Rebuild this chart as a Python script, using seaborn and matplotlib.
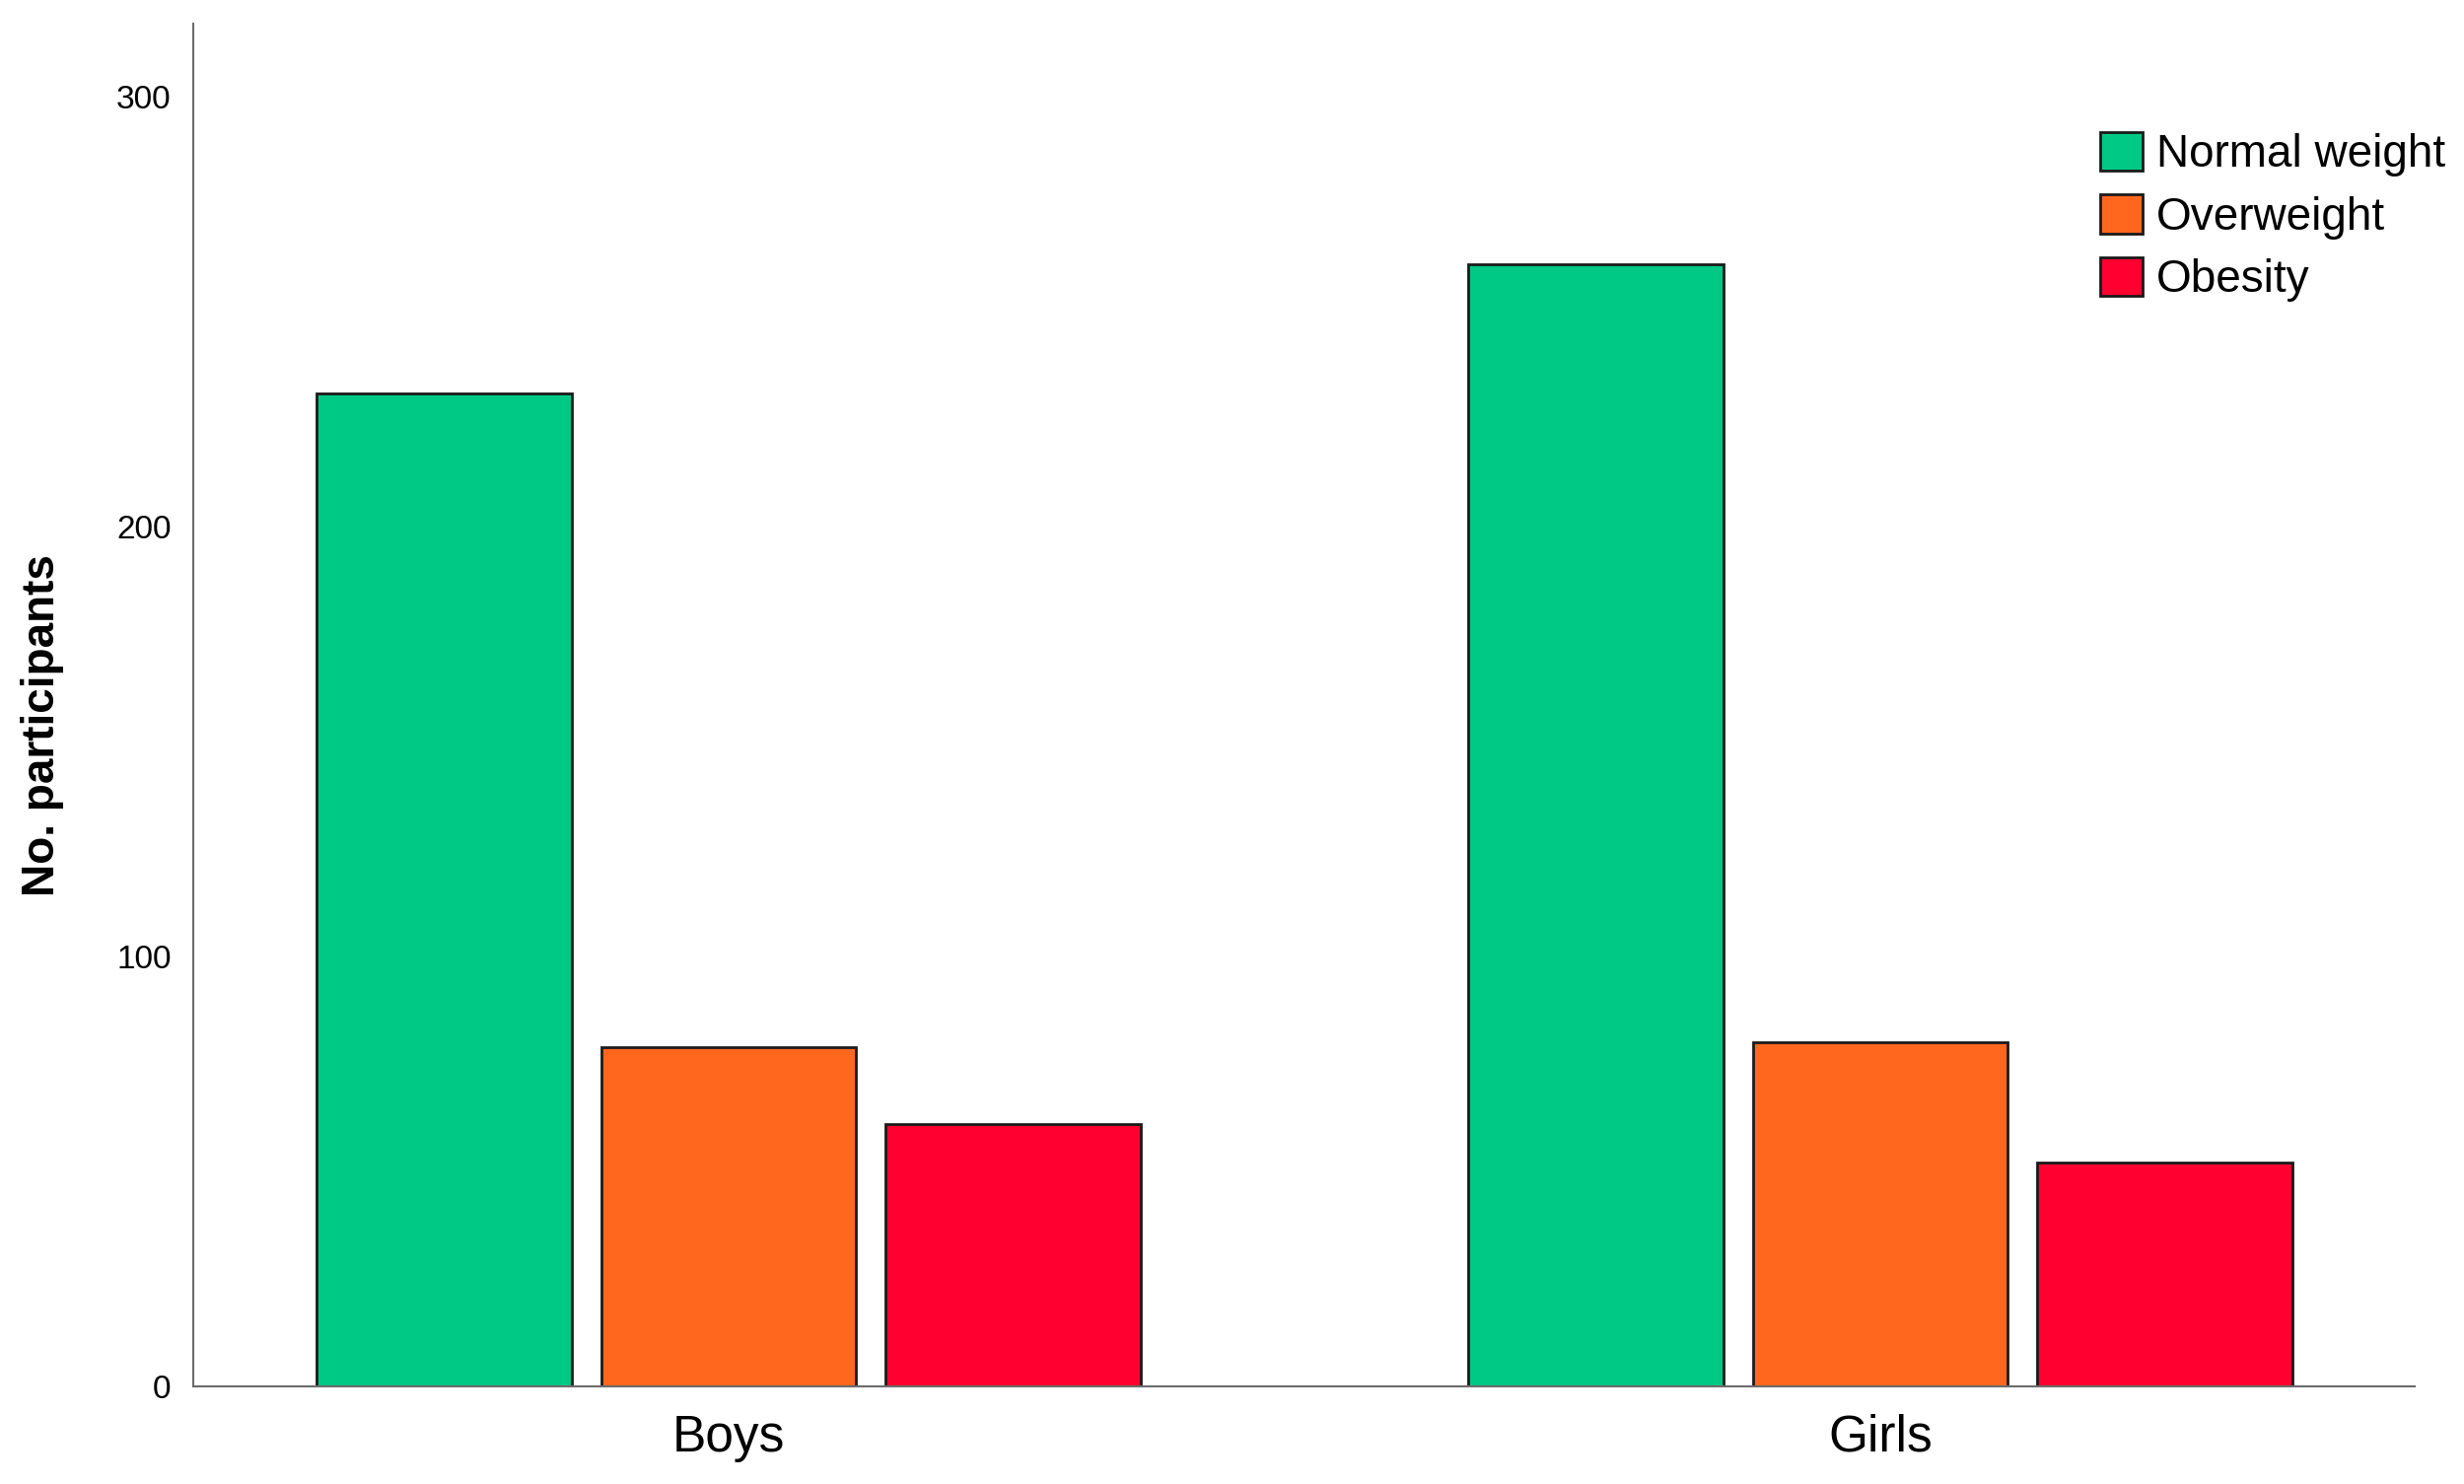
import pandas as pd
import seaborn as sns
import matplotlib.pyplot as plt

# values
groups = ["Boys", "Girls"]
categories = ["Normal weight", "Overweight", "Obesity"]
normal_weight = [231, 261]
overweight = [79, 80]
obesity = [61, 52]
colors = ["#00C985", "#FF671F", "#FF0030"]

df = pd.DataFrame({
    "group": groups * 3,
    "category": [c for c in categories for _ in groups],
    "count": normal_weight + overweight + obesity,
})

sns.set_style("white")
plt.rcParams["font.family"] = ["Liberation Sans", "DejaVu Sans"]
plt.rcParams["text.color"] = "black"
plt.rcParams["xtick.color"] = "black"
plt.rcParams["ytick.color"] = "black"
plt.rcParams["axes.labelcolor"] = "black"

fig = plt.figure(figsize=(24.99, 15.05), dpi=100)
ax = fig.add_axes([0.0784, 0.0658, 0.9016, 0.9182])

sns.barplot(data=df, x="group", y="count", hue="category", order=groups,
            hue_order=categories, palette=colors, width=0.741, gap=0.105,
            edgecolor="#1a1a1a", linewidth=2, saturation=1, ax=ax)

ax.set_xlim(-0.465, 1.464)
ax.set_ylim(0, 317)
ax.set_yticks([0, 100, 200, 300])
ax.tick_params(axis="y", length=0, pad=16, labelsize=24)
ax.tick_params(axis="x", length=0, pad=20, labelsize=37)

for side in ["top", "right"]:
    ax.spines[side].set_visible(False)
for side in ["left", "bottom"]:
    ax.spines[side].set_color("#6b6b6b")
    ax.spines[side].set_linewidth(1.5)

ax.set_xlabel("")
ax.set_ylabel("No. participants", fontsize=33, fontweight="bold")
ax.yaxis.set_label_coords(-0.058, 0.485)

ax.legend(loc="upper right", bbox_to_anchor=(1.022, 0.934), frameon=False,
          fontsize=33, handlelength=0.94, handleheight=0.94, handletextpad=0.3,
          labelspacing=0.4, borderaxespad=0)

fig.savefig("out.png", dpi=100)
